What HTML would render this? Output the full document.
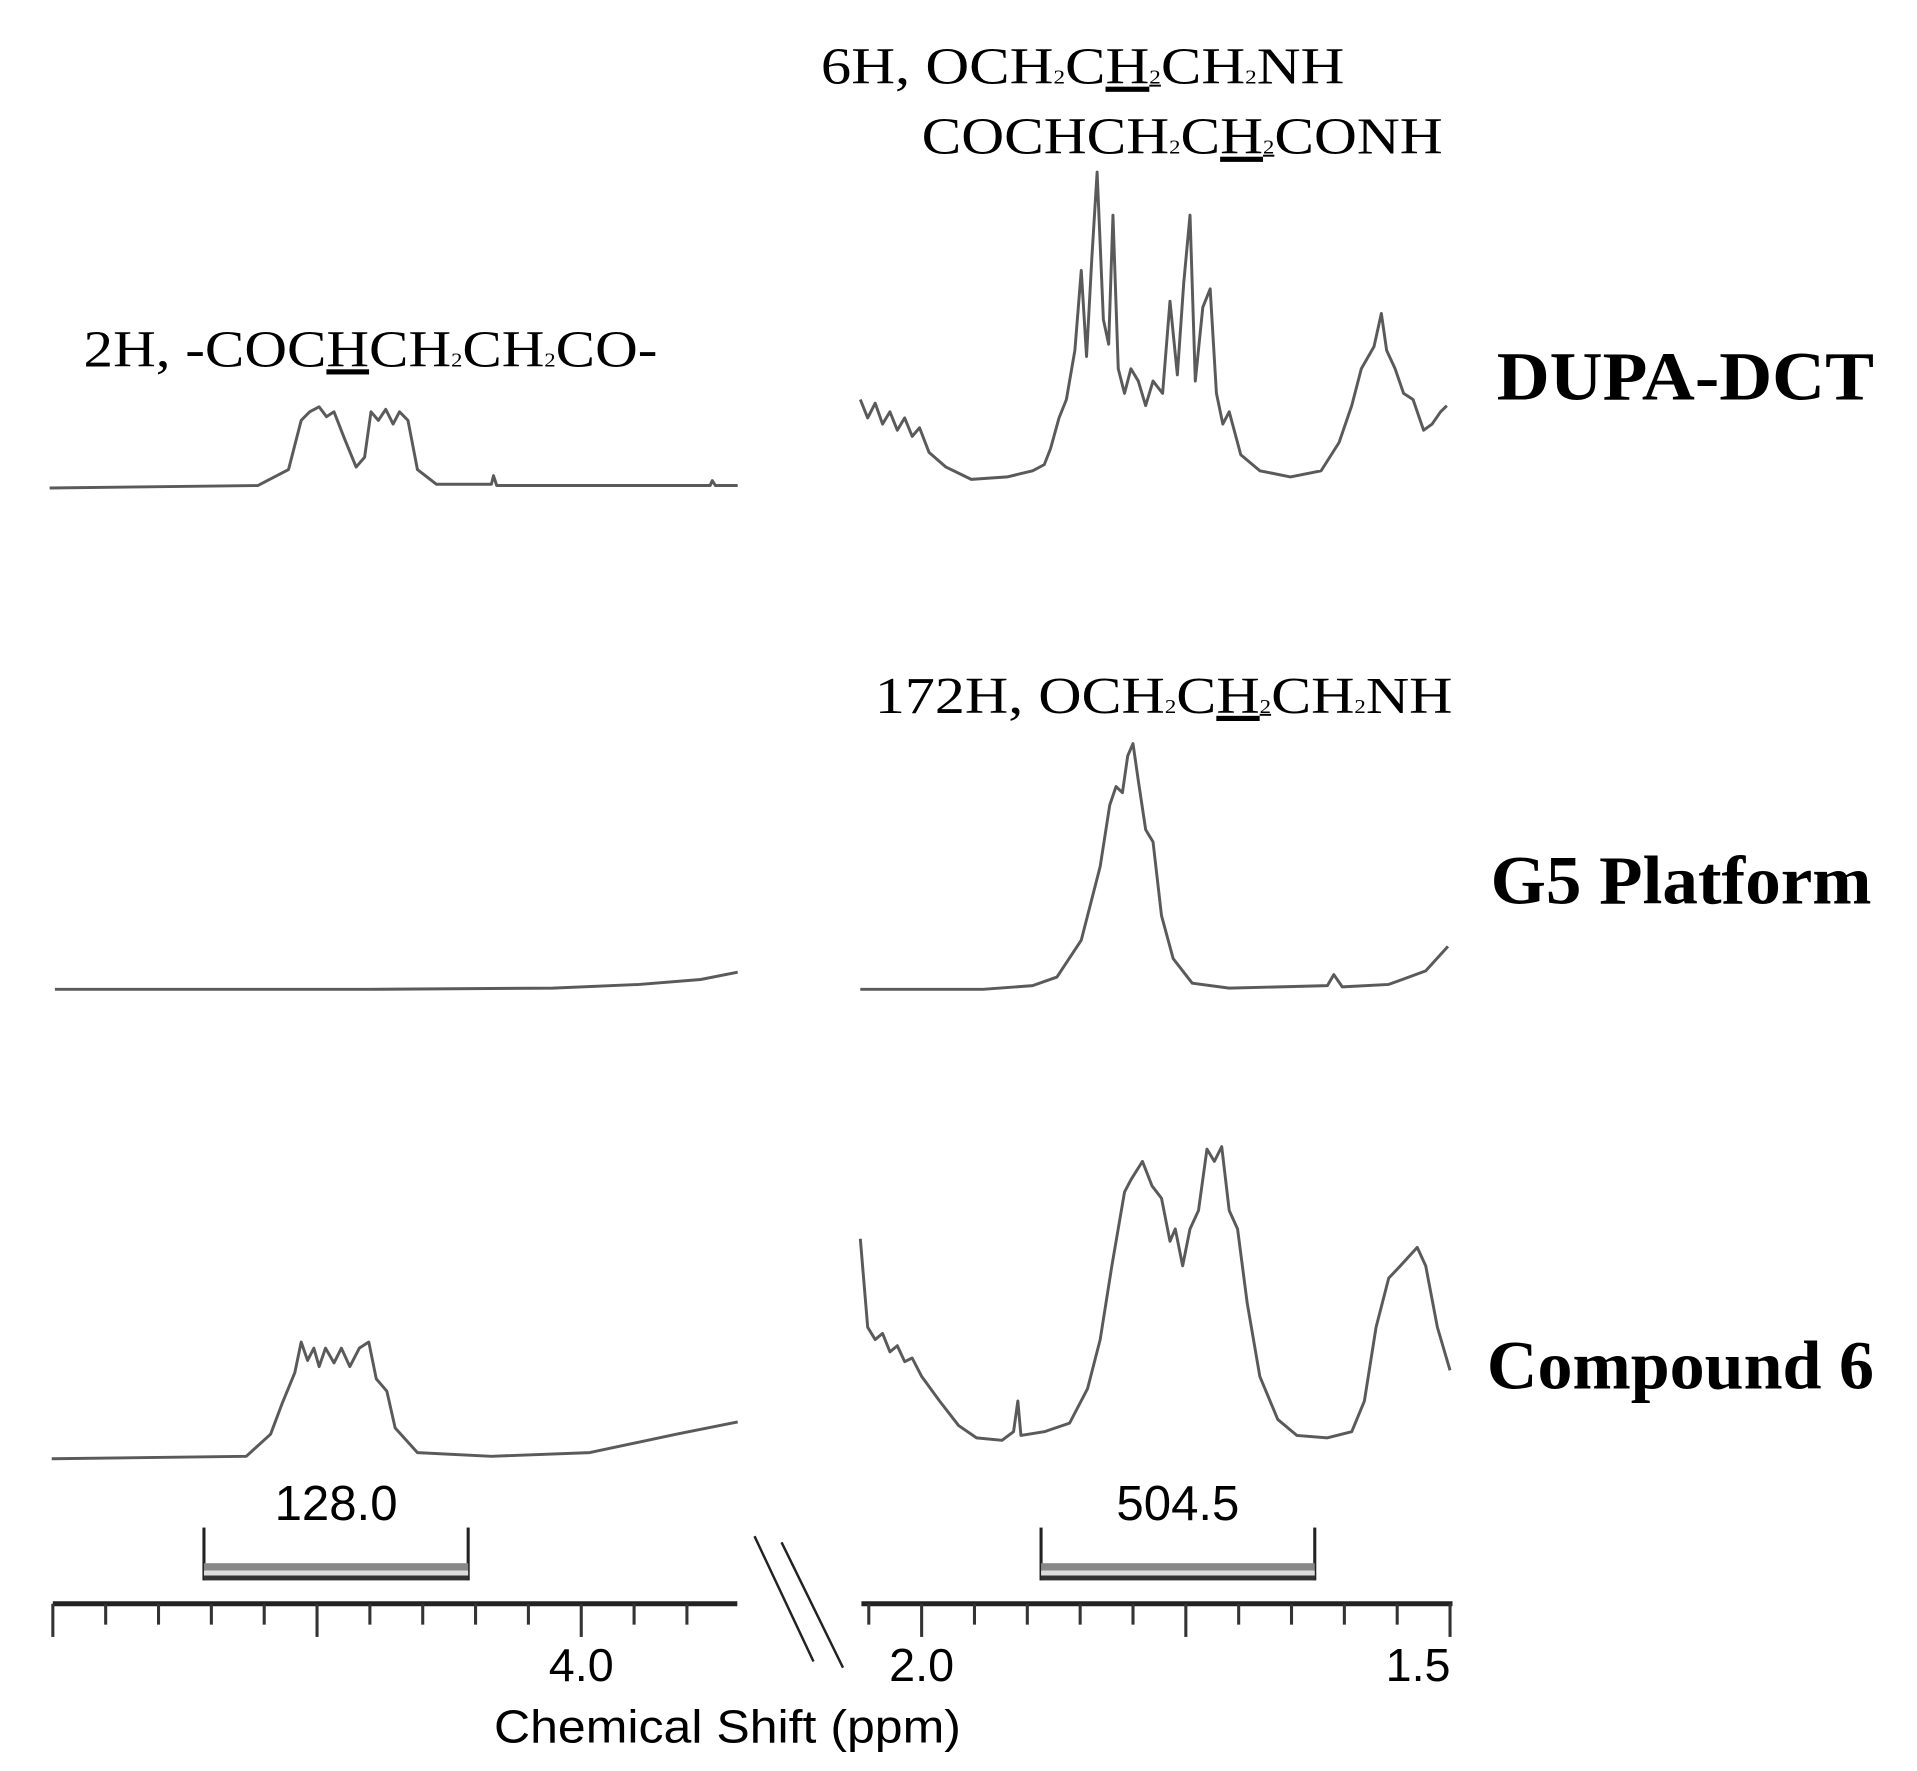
<!DOCTYPE html>
<html><head><meta charset="utf-8"><style>
html,body{margin:0;padding:0;background:#fff;}
svg{display:block;}
.ser{font-family:"Liberation Serif",serif;fill:#000;}
.san{font-family:"Liberation Sans",sans-serif;fill:#000;}
</style></head><body>
<svg id="chart" width="1917" height="1771" viewBox="0 0 1560 1441" xmlns="http://www.w3.org/2000/svg">
<g id="labels">
  <text class="ser" x="68" y="298" font-size="42" textLength="467" lengthAdjust="spacingAndGlyphs">2H, -COC<tspan text-decoration="underline">H</tspan>CH<tspan font-size="16">2</tspan>CH<tspan font-size="16">2</tspan>CO-</text>
  <text class="ser" x="668" y="68" font-size="42" textLength="426" lengthAdjust="spacingAndGlyphs">6H, OCH<tspan font-size="16">2</tspan>C<tspan text-decoration="underline">H<tspan font-size="16">2</tspan></tspan>CH<tspan font-size="16">2</tspan>NH</text>
  <text class="ser" x="750" y="125" font-size="42" textLength="424" lengthAdjust="spacingAndGlyphs">COCHCH<tspan font-size="16">2</tspan>C<tspan text-decoration="underline">H<tspan font-size="16">2</tspan></tspan>CONH</text>
  <text class="ser" x="712" y="580" font-size="42" textLength="470" lengthAdjust="spacingAndGlyphs">172H, OCH<tspan font-size="16">2</tspan>C<tspan text-decoration="underline">H<tspan font-size="16">2</tspan></tspan>CH<tspan font-size="16">2</tspan>NH</text>
  <text class="ser" x="1218" y="325" font-size="56" font-weight="bold" textLength="307" lengthAdjust="spacingAndGlyphs">DUPA-DCT</text>
  <text class="ser" x="1213" y="735" font-size="56" font-weight="bold" textLength="310" lengthAdjust="spacingAndGlyphs">G5 Platform</text>
  <text class="ser" x="1210" y="1130" font-size="56" font-weight="bold" textLength="315" lengthAdjust="spacingAndGlyphs">Compound 6</text>
  <text class="san" x="402" y="1418" font-size="38" textLength="380" lengthAdjust="spacingAndGlyphs">Chemical Shift (ppm)</text>
</g>
<g id="axes"></g>
<g id="traces"></g>
</svg>
<script>
// ---- data ----
const leftTicks = [4.5,4.45,4.4,4.35,4.3,4.25,4.2,4.15,4.1,4.05,4.0,3.95,3.9];
const rightTicks = [2.05,2.0,1.95,1.9,1.85,1.8,1.75,1.7,1.65,1.6,1.55,1.5];
const majorTicks = [4.5,4.25,4.0,2.0,1.75,1.5];
const leftTickLabels = ["4.0"];
const leftTickLabelVals = [4.0];
const rightTickLabels = ["2.0","1.5"];
const rightTickLabelVals = [2.0,1.5];
const integralRanges = [[4.357,4.107,"left"],[1.887,1.628,"right"]];
const integralValues = ["128.0","504.5"];

const dupaLeftPpm = [4.503,4.306,4.277,4.265,4.257,4.248,4.241,4.234,4.224,4.213,4.205,4.199,4.192,4.185,4.178,4.172,4.164,4.155,4.137,4.085,4.083,4.080,3.878,3.876,3.873,3.852];
const dupaLeftInt = [0,2,15,55,62,66,58,62,40,17,25,62,55,64,52,62,55,15,3,3,10,2,2,6,2,2];
const dupaRightPpm = [2.058,2.051,2.044,2.037,2.030,2.023,2.016,2.009,2.002,1.993,1.977,1.953,1.919,1.895,1.884,1.878,1.870,1.863,1.855,1.849,1.844,1.839,1.834,1.828,1.823,1.819,1.814,1.808,1.802,1.795,1.788,1.781,1.772,1.765,1.758,1.752,1.746,1.741,1.734,1.727,1.721,1.715,1.709,1.698,1.680,1.651,1.622,1.605,1.593,1.584,1.572,1.565,1.560,1.552,1.544,1.535,1.525,1.517,1.509,1.503];
const dupaRightInt = [65,50,62,45,55,40,50,35,42,22,10,0,2,7,12,25,50,65,105,170,100,180,250,130,110,215,90,70,90,80,60,80,70,145,85,160,215,80,140,155,70,45,55,20,7,2,7,30,60,90,108,135,105,90,70,65,40,45,55,60];
const g5LeftPpm = [4.498,4.201,4.027,3.945,3.887,3.852];
const g5LeftInt = [0,0,1,4,8,14];
const g5RightPpm = [2.058,1.942,1.895,1.872,1.849,1.831,1.822,1.816,1.810,1.805,1.800,1.795,1.788,1.781,1.773,1.762,1.744,1.709,1.616,1.610,1.602,1.558,1.523,1.502];
const g5RightInt = [0,0,3,10,40,100,150,165,160,190,200,170,130,120,60,25,5,1,3,12,2,4,15,35];
const c6LeftPpm = [4.501,4.317,4.294,4.283,4.271,4.265,4.259,4.253,4.248,4.242,4.234,4.227,4.219,4.210,4.201,4.194,4.184,4.176,4.155,4.085,3.992,3.910,3.852];
const c6LeftInt = [0,2,20,45,70,95,80,90,75,90,78,90,75,90,95,65,55,25,5,2,5,20,30];
const c6RightPpm = [2.058,2.051,2.044,2.037,2.030,2.023,2.016,2.009,2.000,1.983,1.965,1.948,1.924,1.913,1.909,1.906,1.884,1.860,1.843,1.831,1.820,1.808,1.802,1.791,1.782,1.773,1.765,1.760,1.753,1.746,1.738,1.730,1.723,1.716,1.709,1.701,1.692,1.680,1.663,1.645,1.616,1.593,1.581,1.570,1.558,1.547,1.531,1.523,1.512,1.500];
const c6RightInt = [167,95,85,90,75,80,67,70,55,35,15,5,3,10,35,7,10,17,45,85,145,205,215,230,210,200,165,175,145,175,190,240,230,242,190,175,115,55,20,7,5,10,35,95,135,145,160,145,95,60];

// ---- axis functions ----
function xL(p){ return 473 + (4.0 - p) * 860; }
function xR(p){ return 750 + (2.0 - p) * 860; }
function yAt(base, v){ return base - v; }

const NS = "http://www.w3.org/2000/svg";
const axes = document.getElementById('axes');
const traces = document.getElementById('traces');
function mk(tag, attrs, parent){
  const e = document.createElementNS(NS, tag);
  for (const k in attrs) e.setAttribute(k, attrs[k]);
  parent.appendChild(e);
  return e;
}

const axL = mk('line', {x1:43, y1:1305, x2:600, y2:1305, stroke:'#222', 'stroke-width':4}, axes);


const axR = mk('line', {x1:701, y1:1305, x2:1182, y2:1305, stroke:'#222', 'stroke-width':4}, axes);



leftTicks.forEach(function(t){
  const major = majorTicks.indexOf(t) >= 0;
  const tk = mk('line', {x1:xL(t), y1:1305, x2:xL(t), y2: major ? 1332 : 1322, stroke:'#333', 'stroke-width':2.5}, axes);
  
  
});
rightTicks.forEach(function(t){
  const major = majorTicks.indexOf(t) >= 0;
  const tk = mk('line', {x1:xR(t), y1:1305, x2:xR(t), y2: major ? 1332 : 1322, stroke:'#333', 'stroke-width':2.5}, axes);
  
  
});
leftTickLabels.forEach(function(s, i){
  const tx = mk('text', {x:xL(leftTickLabelVals[i]), y:1368, 'text-anchor':'middle', class:'san', 'font-size':38}, axes);
  tx.textContent = s;
  
  
});
rightTickLabels.forEach(function(s, i){
  const v = rightTickLabelVals[i];
  const tx = mk('text', {x: v === 1.5 ? xR(v) - 26 : xR(v), y:1368, 'text-anchor':'middle', class:'san', 'font-size':38}, axes);
  tx.textContent = s;
  
  
});

const br1 = mk('line', {x1:614, y1:1250, x2:662, y2:1352, stroke:'#222', 'stroke-width':2}, axes);


const br2 = mk('line', {x1:636, y1:1255, x2:686, y2:1357, stroke:'#222', 'stroke-width':2}, axes);



integralRanges.forEach(function(r, i){
  const f = r[2] === 'left' ? xL : xR;
  const a = f(r[0]), b = f(r[1]);
  const g = mk('g', {}, axes);
  
  
  mk('line', {x1:a, y1:1243, x2:a, y2:1286, stroke:'#222', 'stroke-width':2.5}, g);
  mk('line', {x1:b, y1:1243, x2:b, y2:1286, stroke:'#222', 'stroke-width':2.5}, g);
  mk('rect', {x:a, y:1272, width:b-a, height:6, fill:'#888'}, g);
  mk('rect', {x:a, y:1278, width:b-a, height:4, fill:'#ddd'}, g);
  mk('rect', {x:a, y:1282, width:b-a, height:4, fill:'#333'}, g);
  const tx = mk('text', {x:(a+b)/2, y:1237, 'text-anchor':'middle', class:'san', 'font-size':40}, axes);
  tx.textContent = integralValues[i];
  
  
});

function trace(ppm, ints, f, base, name, clipTop){
  let d = '';
  ppm.forEach(function(p, i){
    let y = yAt(base, ints[i]);
    if (clipTop !== undefined) y = Math.max(y, clipTop);
    d += (i ? 'L' : 'M') + f(p).toFixed(1) + ',' + y.toFixed(1);
  });
  const pth = mk('path', {d:d, fill:'none', stroke:'#5a5a5a', 'stroke-width':2.4, 'stroke-linejoin':'round'}, traces);
  
  
}
trace(dupaLeftPpm, dupaLeftInt, xL, 397, 'dupa-dct-trace-left');
trace(dupaRightPpm, dupaRightInt, xR, 390, 'dupa-dct-trace-right');
trace(g5LeftPpm, g5LeftInt, xL, 805, 'g5-platform-trace-left');
trace(g5RightPpm, g5RightInt, xR, 805, 'g5-platform-trace-right');
trace(c6LeftPpm, c6LeftInt, xL, 1187, 'compound-6-trace-left');
trace(c6RightPpm, c6RightInt, xR, 1175, 'compound-6-trace-right', 932);
</script>
</body></html>
